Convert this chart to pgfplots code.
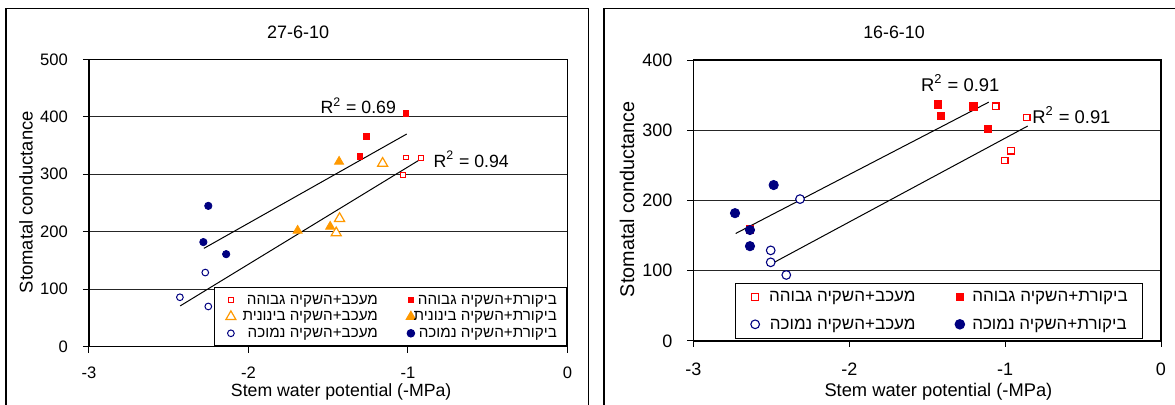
\documentclass[border=0pt]{standalone}
\usepackage{fontspec}
\setmainfont{Liberation Sans}
\newfontfamily\hebfont[Script=Hebrew]{Liberation Sans}
\usepackage{pgfplots}
\pgfplotsset{compat=1.18}
\TeXXeTstate=1
\definecolor{exred}{HTML}{FF0000}
\definecolor{exorange}{HTML}{FF9900}
\definecolor{exnavy}{HTML}{000080}
\newcommand{\heb}[1]{{\hebfont\beginR #1\endR}}

\pgfplotsset{
  every axis title shift=0pt,
  excelaxis/.style={
    scale only axis, anchor=south west,
    xmin=-3, xmax=0,
    xtick={-3,-2,-1,0}, xticklabels={-3,-2,-1,0},
    tick align=outside, tick pos=left, major tick length=3pt,
    ymajorgrids, grid style={black!85, line width=0.5pt},
    axis line style={black, line width=0.6pt},
    tick style={black, line width=0.5pt},
    yticklabel shift=4pt,
    legend columns=2,
  },
}

\begin{document}
\begin{tikzpicture}
% chart area frames
\draw[black, line width=0.6pt] (3pt,-215pt) -- (3pt,-4.35pt) -- (294.25pt,-4.35pt) -- (294.25pt,-215pt);
\draw[black, line width=0.6pt] (302pt,-215pt) -- (302pt,-4.15pt) -- (600pt,-4.15pt);

% ---------------- left chart 27-6-10 ----------------
\begin{axis}[excelaxis,
  at={(44.5pt,-173.35pt)}, width=239.25pt, height=143.7pt,
  ymin=0, ymax=500, ytick={0,100,200,300,400,500}, yticklabels={0,100,200,300,400,500},
  ticklabel style={font=\fontsize{8.3}{10}\selectfont},
  xticklabel shift=3.5pt,
  title={27-6-10},
  title style={at={(axis description cs:0.437,1.094)}, anchor=center, yshift=0pt, font=\fontsize{9}{10}\selectfont},
  xlabel={Stem water potential (-MPa)},
  xlabel style={at={(axis description cs:0.527,-0.158)}, anchor=center, font=\fontsize{8.85}{10}\selectfont},
  ylabel={Stomatal conductance},
  ylabel style={at={(axis description cs:-0.1317,0.503)}, anchor=center, font=\fontsize{9.2}{10}\selectfont},
  legend image code/.code={\path[draw=none,fill=none] (0pt,2.1pt) -- (8pt,2.1pt); \draw[#1] plot coordinates {(3pt,2.1pt)};},
  legend style={at={(rel axis cs:1,0)}, anchor=south east, draw=black, line width=0.6pt, fill=white,
    inner xsep=5pt, inner ysep=3pt, row sep=1.8pt, font=\fontsize{7.6}{9}\selectfont,
    cells={anchor=base},
    nodes={inner sep=0pt, text height=5.2pt, text depth=1.3pt},
    /tikz/every odd column/.append style={column sep=0pt},
    /tikz/every even column/.append style={column sep=13.5pt}},
]
\addplot[only marks, mark=square*, mark size=1.2pt, mark options={draw=exred, fill=white, line width=0.5pt}]
  coordinates {(-1.013,329) (-0.918,328) (-1.030,299)};
\addlegendentry{\makebox[68.5pt][r]{\heb{מעכב+השקיה גבוהה}}}
\addplot[only marks, mark=square*, mark size=1.33pt, mark options={draw=exred, fill=exred}]
  coordinates {(-1.013,406) (-1.260,366) (-1.303,331)};
\addlegendentry{\makebox[68pt][r]{\heb{ביקורת+השקיה גבוהה}}}
\addplot[only marks, mark=triangle*, mark size=2.9pt, mark options={draw=exorange, fill=white, line width=0.6pt}]
  coordinates {(-1.159,319) (-1.429,223) (-1.450,198)};
\addlegendentry{\makebox[68.5pt][r]{\heb{מעכב+השקיה בינונית}}}
\addplot[only marks, mark=triangle*, mark size=2.6pt, mark options={draw=exorange, fill=exorange}]
  coordinates {(-1.432,322) (-1.692,202) (-1.488,209)};
\addlegendentry{\makebox[68pt][r]{\heb{ביקורת+השקיה בינונית}}}
\addplot[only marks, mark=*, mark size=1.67pt, mark options={draw=exnavy, fill=white, line width=0.5pt}]
  coordinates {(-2.271,129) (-2.430,86) (-2.252,70)};
\addlegendentry{\makebox[68.5pt][r]{\heb{מעכב+השקיה נמוכה}}}
\addplot[only marks, mark=*, mark size=1.83pt, mark options={draw=exnavy, fill=exnavy}]
  coordinates {(-2.252,245) (-2.283,182) (-2.140,161)};
\addlegendentry{\makebox[68pt][r]{\heb{ביקורת+השקיה נמוכה}}}
% trend lines
\addplot[black, line width=0.5pt, forget plot] coordinates {(-2.280,171) (-1.008,370)};
\addplot[black, line width=0.5pt, forget plot] coordinates {(-2.428,71) (-0.916,327)};
\node[font=\fontsize{8.85}{10}\selectfont] at (axis cs:-1.312,419) {R\textsuperscript{2} = 0.69};
\node[font=\fontsize{8.85}{10}\selectfont] at (axis cs:-0.604,326) {R\textsuperscript{2} = 0.94};
\end{axis}

% ---------------- right chart 16-6-10 ----------------
\begin{axis}[excelaxis,
  at={(346.7pt,-170.5pt)}, width=233.8pt, height=140.5pt,
  ymin=0, ymax=400, ytick={0,100,200,300,400}, yticklabels={0,100,200,300,400},
  ticklabel style={font=\fontsize{9}{10}\selectfont},
  xticklabel shift=4.5pt,
  title={16-6-10},
  title style={at={(axis description cs:0.429,1.0996)}, anchor=center, yshift=0pt, font=\fontsize{8.9}{10}\selectfont},
  xlabel={Stem water potential (-MPa)},
  xlabel style={at={(axis description cs:0.524,-0.181)}, anchor=center, font=\fontsize{9.15}{10}\selectfont},
  ylabel={Stomatal conductance},
  ylabel style={at={(axis description cs:-0.142,0.505)}, anchor=center, font=\fontsize{9.9}{11}\selectfont},
  legend image code/.code={\path[draw=none,fill=none] (0pt,2.4pt) -- (9.2pt,2.4pt); \draw[#1] plot coordinates {(3pt,2.4pt)};},
  legend style={at={(rel axis cs:0.961,0.006)}, anchor=south east, draw=black, line width=0.6pt, fill=white,
    inner xsep=6.95pt, inner ysep=3.5pt, row sep=6.6pt, font=\fontsize{8.5}{10}\selectfont,
    cells={anchor=base},
    nodes={inner sep=0pt, text height=5.8pt, text depth=1.3pt},
    /tikz/every odd column/.append style={column sep=0pt},
    /tikz/every even column/.append style={column sep=19.15pt}},
]
\addplot[only marks, mark=square*, mark size=1.67pt, mark options={draw=exred, fill=white, line width=0.55pt}]
  coordinates {(-1.061,334) (-0.862,318) (-0.964,271) (-1.003,257)};
\addlegendentry{\makebox[74pt][r]{\heb{מעכב+השקיה גבוהה}}}
\addplot[only marks, mark=square*, mark size=1.83pt, mark options={draw=exred, fill=exred}]
  coordinates {(-1.433,337) (-1.413,320) (-1.204,334) (-1.110,302) (-2.639,159)};
\addlegendentry{\makebox[78pt][l]{\heb{ביקורת+השקיה גבוהה}}}
\addplot[only marks, mark=*, mark size=2.17pt, mark options={draw=exnavy, fill=white, line width=0.55pt}]
  coordinates {(-2.316,202) (-2.504,129) (-2.504,112) (-2.404,94)};
\addlegendentry{\makebox[74pt][r]{\heb{מעכב+השקיה נמוכה}}}
\addplot[only marks, mark=*, mark size=2.33pt, mark options={draw=exnavy, fill=exnavy}]
  coordinates {(-2.485,222) (-2.733,182) (-2.637,158) (-2.637,135)};
\addlegendentry{\makebox[78pt][l]{\heb{ביקורת+השקיה נמוכה}}}
\addplot[black, line width=0.5pt, forget plot] coordinates {(-2.729,153) (-1.105,340)};
\addplot[black, line width=0.5pt, forget plot] coordinates {(-2.498,110) (-0.855,306)};
\node[font=\fontsize{9.2}{10}\selectfont] at (axis cs:-1.288,367) {R\textsuperscript{2} = 0.91};
\node[font=\fontsize{9.2}{10}\selectfont] at (axis cs:-0.575,322) {R\textsuperscript{2} = 0.91};
\end{axis}

\pgfresetboundingbox
\path[use as bounding box] (0pt,0pt) rectangle (587.5pt,-202.5pt);
\end{tikzpicture}
\end{document}
